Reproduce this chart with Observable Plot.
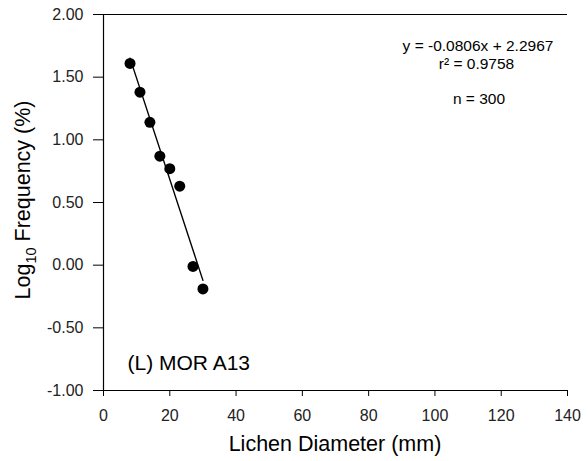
<!DOCTYPE html>
<html>
<head>
<meta charset="utf-8">
<script src="https://cdn.jsdelivr.net/npm/d3@7"></script>
<script src="https://cdn.jsdelivr.net/npm/@observablehq/plot@0.6"></script>
<style>
  html, body { margin: 0; padding: 0; background: #fff; }
  #chart { width: 588px; height: 461px; }
</style>
</head>
<body>
<div id="chart"></div>
<script>
// Data
const diameter = [8, 11, 14, 17, 20, 23, 27, 30];
const logFreq  = [1.61, 1.38, 1.14, 0.87, 0.77, 0.63, -0.01, -0.19];
const slope = -0.0806;
const intercept = 2.2967;
const xTicks = [0, 20, 40, 60, 80, 100, 120, 140];
const yTicks = [-1.0, -0.5, 0.0, 0.5, 1.0, 1.5, 2.0];
const equationText = "y = -0.0806x + 2.2967";
const r2Text = "r² = 0.9758";
const nText = "n = 300";
const panelLabel = "(L) MOR A13";
const xTitle = "Lichen Diameter (mm)";

const points = diameter.map((d, i) => ({x: d, y: logFreq[i]}));
const xMin = d3.min(diameter), xMax = d3.max(diameter);
const fitLine = [xMin, xMax].map(x => ({x, y: slope * x + intercept}));

const font = "'Liberation Sans', Arial, sans-serif";

const plot = Plot.plot({
  width: 588,
  height: 461,
  marginTop: 14,
  marginBottom: 71,
  marginLeft: 103,
  marginRight: 21,
  style: {fontFamily: font, fontSize: "16px", background: "#fff", color: "#222"},
  x: {domain: [0, 140]},
  y: {domain: [-1, 2]},
  marks: [
    Plot.axisX({ticks: xTicks, tickSize: 6, tickPadding: 13, label: null, fontSize: 16, stroke: "#000"}),
    Plot.axisY({ticks: yTicks, tickSize: 10, tickPadding: 10, label: null, fontSize: 16,
                tickFormat: d => d.toFixed(2), stroke: "#000"}),
    Plot.ruleY([2], {stroke: "#000", strokeWidth: 1.2}),
    Plot.ruleY([-1], {stroke: "#000", strokeWidth: 1.2}),
    Plot.ruleX([0], {stroke: "#000", strokeWidth: 1.2}),
    Plot.line(fitLine, {x: "x", y: "y", stroke: "#000", strokeWidth: 1.4}),
    Plot.dot(points, {x: "x", y: "y", r: 5.5, fill: "#000", stroke: "none"}),
    Plot.text([equationText], {frameAnchor: "top-right", dx: -89.5, dy: 25, text: d => d, fontSize: 15.5, fill: "#000", textAnchor: "middle"}),
    Plot.text([r2Text], {frameAnchor: "top-right", dx: -91, dy: 43.5, text: d => d, fontSize: 15.5, fill: "#000", textAnchor: "middle"}),
    Plot.text([nText], {frameAnchor: "top-right", dx: -88.5, dy: 78, text: d => d, fontSize: 15.5, fill: "#000", textAnchor: "middle"}),
    Plot.text([panelLabel], {frameAnchor: "bottom-left", dx: 24, dy: -21, text: d => d, fontSize: 21, fill: "#000", textAnchor: "start"})
  ]
});

document.getElementById("chart").appendChild(plot);

const svg = d3.select(plot);
// X axis title
svg.append("text")
  .attr("x", (103 + 567) / 2)
  .attr("y", 450.5)
  .attr("text-anchor", "middle")
  .attr("font-family", font)
  .attr("font-size", 21.5)
  .attr("fill", "#000")
  .text(xTitle);

// Y axis title with subscript
const yt = svg.append("text")
  .attr("transform", "translate(30,200) rotate(-90)")
  .attr("text-anchor", "middle")
  .attr("font-family", font)
  .attr("font-size", 21.5)
  .attr("fill", "#000");
yt.append("tspan").text("Log");
yt.append("tspan").attr("font-size", 14.5).attr("dy", 6).text("10");
yt.append("tspan").attr("dy", -6).text(" Frequency (%)");
</script>
</body>
</html>
